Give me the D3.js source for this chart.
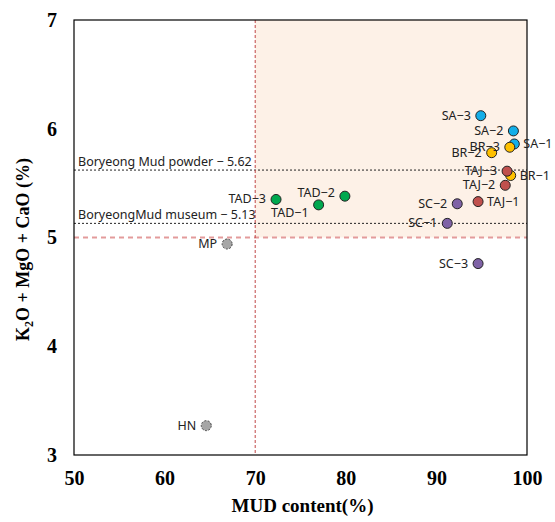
<!DOCTYPE html>
<html>
<head>
<meta charset="utf-8">
<script src="https://cdn.jsdelivr.net/npm/d3@7/dist/d3.min.js"></script>
<style>
  body { margin: 0; background: #fff; }
  .tick-label { font-family: "Liberation Serif", "Times New Roman", serif; font-weight: bold; font-size: 20px; }
  .axis-title { font-family: "Liberation Serif", "Times New Roman", serif; font-weight: bold; font-size: 19px; }
  .pt-label { font-family: "Noto Sans", "DejaVu Sans", sans-serif; font-size: 12.5px; fill: #222; }
</style>
</head>
<body>
<svg width="555" height="522"></svg>
<script>
// sample names, mud content (%) and K2O+MgO+CaO (%)
const names = ["SA-3", "SA-2", "SA-1", "BR-3", "BR-2", "BR-1", "TAJ-3", "TAJ-2", "TAJ-1",
               "SC-2", "SC-1", "SC-3", "TAD-3", "TAD-2", "TAD-1", "MP", "HN"];
const mud = [94.9, 98.5, 98.6, 98.1, 96.1, 98.2, 97.8, 97.6, 94.6,
             92.3, 91.2, 94.6, 72.3, 79.9, 77.0, 66.9, 64.6];
const oxides = [6.12, 5.98, 5.86, 5.83, 5.78, 5.57, 5.61, 5.48, 5.33,
                5.31, 5.13, 4.76, 5.35, 5.38, 5.30, 4.94, 3.27];
const groups = ["SA", "SA", "SA", "BR", "BR", "BR", "TAJ", "TAJ", "TAJ",
                "SC", "SC", "SC", "TAD", "TAD", "TAD", "ref", "ref"];

const xTicks = [50, 60, 70, 80, 90, 100];
const yTicks = [3, 4, 5, 6, 7];

const refNames = ["Boryeong Mud powder \u2212 5.62", "BoryeongMud museum \u2212 5.13"];
const refValues = [5.62, 5.13];

const mudLimit = 70;
const oxideLimit = 5;

const colors = { SA: "#13aee8", BR: "#ffc000", TAJ: "#c0504d", SC: "#7f62a6", TAD: "#00a84f", ref: "#a6a6a6" };
// label placement: l = left, r = right, ul = upper-left, dl = lower-left
const labelSide = { "SA-1": "r", "BR-1": "r", "TAJ-1": "r", "TAD-2": "ul", "TAD-1": "dl" };

const svg = d3.select("svg");
const margin = { top: 20, right: 28, bottom: 67, left: 74 };
const width = 555 - margin.left - margin.right;
const height = 522 - margin.top - margin.bottom;
const g = svg.append("g").attr("transform", "translate(" + margin.left + "," + margin.top + ")");

const x = d3.scaleLinear().domain([50, 100]).range([0, width]);
const y = d3.scaleLinear().domain([3, 7]).range([height, 0]);

// shaded zone
g.append("rect")
  .attr("x", x(mudLimit)).attr("y", y(7))
  .attr("width", x(100) - x(mudLimit)).attr("height", y(oxideLimit) - y(7))
  .attr("fill", "#fdf1e7");

// reference lines
refValues.forEach((v, i) => {
  g.append("line")
    .attr("x1", 0).attr("x2", width).attr("y1", y(v)).attr("y2", y(v))
    .attr("stroke", "#222").attr("stroke-width", 1).attr("stroke-dasharray", "2,2");
  g.append("text").attr("class", "pt-label")
    .attr("x", 4).attr("y", y(v) - 4)
    .text(refNames[i]);
});

g.append("line")
  .attr("x1", 0).attr("x2", width).attr("y1", y(oxideLimit)).attr("y2", y(oxideLimit))
  .attr("stroke", "#e39b9b").attr("stroke-width", 1.8).attr("stroke-dasharray", "5,4");
g.append("line")
  .attr("x1", x(mudLimit)).attr("x2", x(mudLimit)).attr("y1", 0).attr("y2", height)
  .attr("stroke", "#c04848").attr("stroke-width", 1).attr("stroke-dasharray", "3,2");

// frame
g.append("rect").attr("width", width).attr("height", height)
  .attr("fill", "none").attr("stroke", "#000").attr("stroke-width", 1.2);

// axes (labels only)
const xAxis = g.append("g").attr("transform", "translate(0," + height + ")")
  .call(d3.axisBottom(x).tickValues(xTicks).tickFormat(d3.format("d")).tickSize(0).tickPadding(16));
xAxis.select(".domain").remove();
xAxis.selectAll("text").attr("class", "tick-label").attr("fill", "#000");

const yAxis = g.append("g")
  .call(d3.axisLeft(y).tickValues(yTicks).tickFormat(d3.format("d")).tickSize(0).tickPadding(17));
yAxis.select(".domain").remove();
yAxis.selectAll("text").attr("class", "tick-label").attr("fill", "#000");

// titles
g.append("text").attr("class", "axis-title")
  .attr("x", width / 2 + 2).attr("y", height + 57)
  .attr("text-anchor", "middle").text("MUD content(%)");

const yt = svg.append("text").attr("class", "axis-title")
  .attr("transform", "translate(29," + (margin.top + height / 2 + 12) + ") rotate(-90)")
  .attr("text-anchor", "middle")
  .style("font-size", "18px");
yt.append("tspan").text("K");
yt.append("tspan").attr("dy", 4).style("font-size", "12px").text("2");
yt.append("tspan").attr("dy", -4).text("O + MgO + CaO (%)");

// points
const data = names.map((n, i) => ({ name: n, mud: mud[i], ox: oxides[i], group: groups[i] }));

g.selectAll("circle.pt").data(data).enter().append("circle")
  .attr("class", "pt")
  .attr("cx", d => x(d.mud)).attr("cy", d => y(d.ox)).attr("r", 5)
  .attr("fill", d => colors[d.group])
  .attr("stroke", d => d.group === "ref" ? "#444" : "#222")
  .attr("stroke-width", 1)
  .attr("stroke-dasharray", d => d.group === "ref" ? "2,1.5" : null);

g.selectAll("text.pl").data(data).enter().append("text")
  .attr("class", "pt-label pl")
  .attr("x", d => {
    const s = labelSide[d.name] || "l";
    return x(d.mud) + (s === "r" ? 9 : -10);
  })
  .attr("y", d => {
    const s = labelSide[d.name] || "l";
    const off = s === "ul" ? -3 : s === "dl" ? 8 : 0;
    return y(d.ox) + off + 4;
  })
  .attr("text-anchor", d => (labelSide[d.name] === "r" ? "start" : "end"))
  .text(d => d.name.replace("-", "\u2212"));
</script>
</body>
</html>
